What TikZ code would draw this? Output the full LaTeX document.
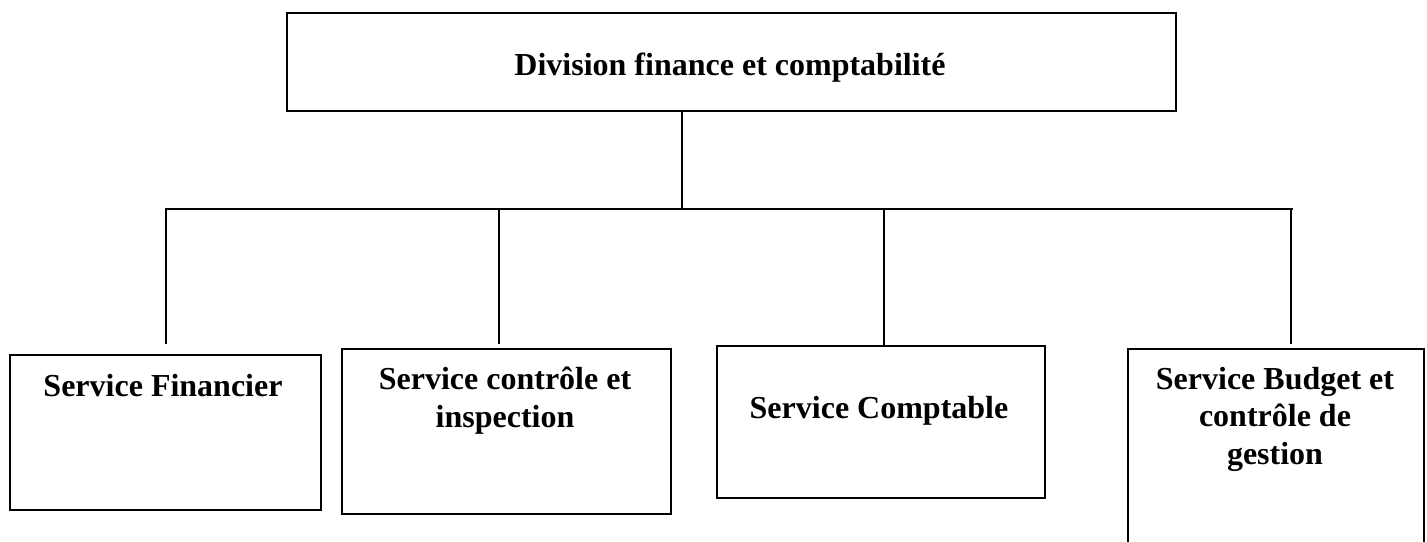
\documentclass[tikz,border=0pt]{standalone}
\usepackage{fontspec}
\setmainfont{Liberation Serif}
\begin{document}
\begin{tikzpicture}[x=1pt,y=-1pt,
  boxline/.style={draw=black,line width=1.6pt},
  conn/.style={draw=black,line width=1.4pt},
  lbl/.style={font=\fontsize{32}{37.5}\selectfont\bfseries,align=center,anchor=base,inner sep=0pt}]
\useasboundingbox (0,0) rectangle (1427,541);
\fill[white] (0,0) rectangle (1427,541);
\begin{scope}
\clip (0,0) rectangle (1427,541);
% boxes
\node[boxline,minimum width=889pt,minimum height=98pt,anchor=north west,inner sep=0pt] (top) at (286,12) {};
\node[boxline,minimum width=311pt,minimum height=155pt,anchor=north west,inner sep=0pt] (b1) at (9,354) {};
\node[boxline,minimum width=329pt,minimum height=165pt,anchor=north west,inner sep=0pt] (b2) at (341,348) {};
\node[boxline,minimum width=328pt,minimum height=152pt,anchor=north west,inner sep=0pt] (b3) at (716,345) {};
\node[boxline,minimum width=296pt,minimum height=230pt,anchor=north west,inner sep=0pt] (b4) at (1127,348) {};
% texts (base = baseline of the last line)
\node[lbl] (ttop) at (730,75) {Division finance et comptabilité};
\node[lbl] (t1) at (163,396) {Service Financier};
\node[lbl] (t2) at (505,427) {Service contrôle et\\inspection};
\node[lbl] (t3) at (879,418) {Service Comptable};
\node[lbl] (t4) at (1275,464) {Service Budget et\\contrôle de\\gestion};
% connector points
\coordinate (topout) at (682,110);
\coordinate (busmid) at (682,209);
\coordinate (busl) at (165,209);
\coordinate (busr) at (1293,209);
\coordinate (d1) at (166,209);
\coordinate (d2) at (499,209);
\coordinate (d3) at (884,209);
\coordinate (d4) at (1291,209);
\coordinate (e1) at (166,344);
\coordinate (e2) at (499,344);
\coordinate (e3) at (884,345);
\coordinate (e4) at (1291,344);
\draw[conn] (top.south -| topout) -- (busmid);
\draw[conn] (busl) -- (busr);
\draw[conn] (d1) -- (e1);
\draw[conn] (d2) -- (e2);
\draw[conn] (d3) -- (e3);
\draw[conn] (d4) -- (e4);
\end{scope}
\end{tikzpicture}
\end{document}
